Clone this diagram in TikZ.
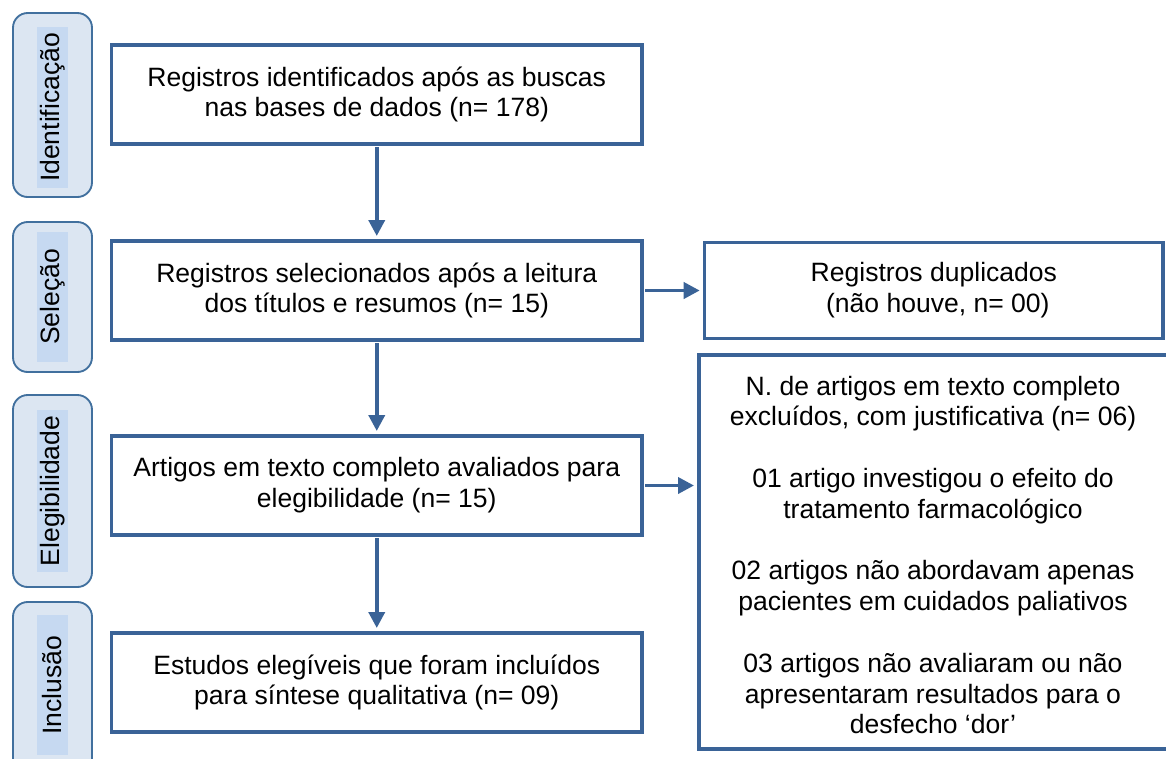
\documentclass[tikz,border=0pt]{standalone}
\usepackage{fontspec}
\setmainfont{Liberation Sans}
\usetikzlibrary{arrows.meta}
\definecolor{boxblue}{HTML}{3A6397}
\definecolor{stagefill}{HTML}{DCE6F2}
\definecolor{labelfill}{HTML}{C6D9F1}
\definecolor{stageline}{HTML}{41709E}
\begin{document}
\begin{tikzpicture}[x=0.75pt,y=-0.75pt,
  font=\fontsize{19.9}{23.1}\selectfont,
  box/.style={draw=boxblue, line width=2.5pt, align=center, inner sep=0pt},
  stage/.style={draw=stageline, fill=stagefill, rounded corners=11pt, line width=1.4pt, minimum width=59.25pt},
  lab/.style={fill=labelfill, rotate=90, minimum height=23.25pt, inner sep=0pt},
  arr/.style={draw=boxblue, line width=2.8pt, -{Triangle[length=12pt,width=12pt]}, shorten >=2.5pt, shorten <=1pt}]
\useasboundingbox (0,0) rectangle (1166,758);

% stage boxes
\node[stage, minimum height=138pt] (s1) at (52.5,105) {};
\node[lab, minimum width=120.75pt] (l1) at (52.5,107.5) {Identificação};
\node[stage, minimum height=112.5pt] (s2) at (52.5,297) {};
\node[lab, minimum width=97.5pt] (l2) at (52.5,297) {Seleção};
\node[stage, minimum height=144pt] (s3) at (52.5,491) {};
\node[lab, minimum width=121.5pt] (l3) at (52.5,491) {Elegibilidade};
\node[stage, minimum height=133.5pt] (s4) at (52.5,691) {};
\node[lab, minimum width=105pt] (l4) at (52.5,685) {Inclusão};

% main boxes
\node[box, minimum width=397.9pt, minimum height=74.25pt] (b1) at (376.75,94.5)
  {Registros identificados após as buscas\\nas bases de dados (n= 178)};
\node[box, minimum width=397.9pt, minimum height=74.25pt] (b2) at (376.75,290.5)
  {Registros selecionados após a leitura\\dos títulos e resumos (n= 15)};
\node[box, minimum width=397.9pt, minimum height=74.25pt] (b3) at (376.75,485.5)
  {Artigos em texto completo avaliados para\\elegibilidade (n= 15)};
\node[box, minimum width=397.9pt, minimum height=74.25pt] (b4) at (376.75,682.5)
  {Estudos elegíveis que foram incluídos\\para síntese qualitativa (n= 09)};

\node[box, minimum width=343.7pt, minimum height=72pt] (dup) at (933.85,290.5)
  {Registros duplicados\\\hspace*{0.3em}(não houve, n= 00)};
% big exclusion box (right border lies beyond the picture edge)
\node[box, minimum width=367.5pt, minimum height=295.5pt] (big) at (944,552) {};
\node[align=center, inner sep=0pt] (bigtxt) at (933,555)
  {N. de artigos em texto completo\\excluídos, com justificativa (n= 06)\\[23.1pt]
   01 artigo investigou o efeito do\\tratamento farmacológico\\[23.1pt]
   02 artigos não abordavam apenas\\pacientes em cuidados paliativos\\[23.1pt]
   03 artigos não avaliaram ou não\\apresentaram resultados para o\\desfecho ‘dor’};

% connectors
\draw[arr] (b1) -- (b2);
\draw[arr] (b2) -- (b3);
\draw[arr] (b3) -- (b4);
\draw[arr] (b2.east) -- (dup.west);
\draw[arr] (b3.east) -- (b3.east -| big.west);
\end{tikzpicture}
\end{document}
